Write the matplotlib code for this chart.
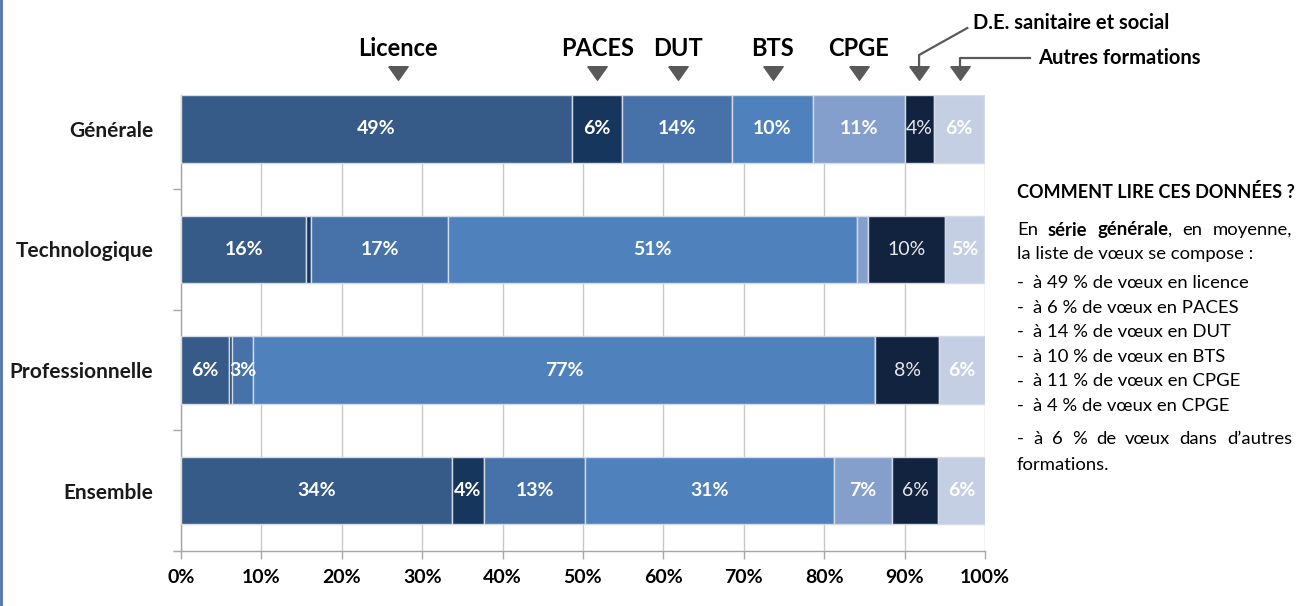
import matplotlib
matplotlib.use('Agg')
import matplotlib.pyplot as plt
from matplotlib.transforms import blended_transform_factory
from matplotlib.lines import Line2D

plt.rcParams['font.family'] = ['Lato', 'DejaVu Sans']

# ---------------- data ----------------
series = ['Générale', 'Technologique', 'Professionnelle', 'Ensemble']
formations = ['Licence', 'PACES', 'DUT', 'BTS', 'CPGE',
              'D.E. sanitaire et social', 'Autres formations']
licence = [48.6, 15.6, 6.0, 33.7]
paces = [6.2, 0.6, 0.4, 4.0]
dut = [13.7, 17.0, 2.6, 12.6]
bts = [10.1, 50.9, 77.3, 30.9]
cpge = [11.4, 1.3, 0.0, 7.2]
de_sanitaire = [3.6, 9.6, 8.0, 5.8]
autres = [6.3, 4.9, 5.7, 5.8]
xtick_values = [0, 10, 20, 30, 40, 50, 60, 70, 80, 90, 100]
xtick_labels = ['0%', '10%', '20%', '30%', '40%', '50%', '60%', '70%', '80%', '90%', '100%']
# header marker positions (in % on the x scale)
header_pos = [27, 51.8, 61.8, 73.6, 84.3, 91.8, 96.9]

values = [licence, paces, dut, bts, cpge, de_sanitaire, autres]
colors = ['#365b88', '#17365d', '#4672a9', '#4f81bd', '#849fcc', '#11233f', '#c5cfe3']

W, H = 1308, 606
fig = plt.figure(figsize=(W / 100, H / 100), dpi=100)
ax = fig.add_axes([181 / W, 55 / H, (985 - 181) / W, (551 - 95) / H])

ypos = list(range(len(series)))
left = [0.0] * len(series)
for k, (vals, col) in enumerate(zip(values, colors)):
    ax.barh(ypos, vals, left=left, height=0.56, color=col,
            edgecolor='#d3dbe8', linewidth=1, zorder=3)
    for i, v in enumerate(vals):
        if v >= 2:
            if k == 5:
                tc, fw = '#e8e8e8', 'normal'
            else:
                tc, fw = 'white', 'bold'
            ax.text(left[i] + v / 2, i, f'{round(v)}%', ha='center', va='center',
                    color=tc, fontsize=14, fontweight=fw, zorder=4)
    left = [l + v for l, v in zip(left, vals)]

ax.set_xlim(0, 100)
ax.set_ylim(3.5, -0.28)
ax.set_xticks(xtick_values)
ax.set_xticklabels(xtick_labels, fontsize=14, fontweight='bold')
ax.set_yticks(ypos)
ax.set_yticklabels(series, fontsize=15, fontweight='bold', color='#1a1a1a')
ax.set_yticks([0.5, 1.5, 2.5, 3.5], minor=True)
ax.tick_params(axis='y', which='major', length=0, pad=20)
ax.tick_params(axis='y', which='minor', length=6, color='#a6a6a6', width=1)
ax.tick_params(axis='x', which='major', length=6, color='#a6a6a6', width=1, pad=7)
ax.xaxis.grid(True, color='#c8c8c8', linewidth=1, zorder=0)
ax.set_axisbelow(True)
for s in ['top', 'right']:
    ax.spines[s].set_visible(False)
for s in ['left', 'bottom']:
    ax.spines[s].set_color('#a6a6a6')
    ax.spines[s].set_linewidth(1)

# ---------------- header markers ----------------
tr = blended_transform_factory(ax.transData, fig.transFigure)
def fy(py):
    return 1 - py / H

tri = [(-1, 0.7), (1, 0.7), (0, -0.7), (-1, 0.7)]
for xp in header_pos:
    ax.plot([xp], [fy(73)], marker=tri, markersize=14, color='#595959',
            transform=tr, clip_on=False, linestyle='none')

for name, xp in zip(formations[:5], header_pos[:5]):
    ax.text(xp, fy(48), name, transform=tr, ha='center', va='center',
            fontsize=17, fontweight='bold', color='black', clip_on=False)

# D.E. leader
de_x = header_pos[5]
fig.add_artist(Line2D([de_x, de_x, 97.8], [fy(67), fy(55), fy(28)], transform=tr,
                      color='#595959', linewidth=1.6))
ax.text(98.5, fy(23), formations[5], transform=tr, ha='left', va='center',
        fontsize=14.5, fontweight='bold', color='black', clip_on=False)
# Autres leader
au_x = header_pos[6]
fig.add_artist(Line2D([au_x, au_x, 105.6], [fy(67), fy(58), fy(58)], transform=tr,
                      color='#595959', linewidth=1.6))
ax.text(106.6, fy(58), formations[6], transform=tr, ha='left', va='center',
        fontsize=14.5, fontweight='bold', color='black', clip_on=False)

# left border line
fig.add_artist(Line2D([0.8 / W, 0.8 / W], [0, 1], transform=fig.transFigure,
                      color='#4f74a8', linewidth=2))

# ---------------- right text block ----------------
x0, x1 = 1017, 1292
TS = 13.3
TT = 13
fig.canvas.draw()
renderer = fig.canvas.get_renderer()

def width_px(t):
    return t.get_window_extent(renderer).width / fig.bbox.width * W

def justified(words, y):
    objs, widths = [], []
    for w in words:
        segs, tot = [], 0
        for t, wt in w:
            o = fig.text(0.5, 0.5, t, fontsize=TS, fontweight=wt, va='center', ha='left')
            wd = width_px(o)
            segs.append((o, wd))
            tot += wd
        objs.append(segs)
        widths.append(tot)
    gap = (x1 - x0 - sum(widths)) / (len(words) - 1)
    x = x0
    for segs, tot in zip(objs, widths):
        xx = x
        for o, wd in segs:
            o.set_position((xx / W, fy(y)))
            xx += wd
        x += tot + gap

fig.text(x0 / W, fy(192), 'COMMENT LIRE CES DONNÉES ?', fontsize=TT, fontweight='bold',
         va='center', ha='left')
justified([[('En', 'normal')], [('série', 'bold')], [('générale', 'bold'), (',', 'normal')],
           [('en', 'normal')], [('moyenne,', 'normal')]], 230)
fig.text(x0 / W, fy(254), 'la liste de vœux se compose :', fontsize=TS, va='center', ha='left')
items = ['à 49 % de vœux en licence', 'à 6 % de vœux en PACES', 'à 14 % de vœux en DUT',
         'à 10 % de vœux en BTS', 'à 11 % de vœux en CPGE', 'à 4 % de vœux en CPGE']
for j, it in enumerate(items):
    y = 283 + j * 24.6
    fig.text(x0 / W, fy(y), '-', fontsize=TS, va='center', ha='left')
    fig.text(1033 / W, fy(y), it, fontsize=TS, va='center', ha='left')
justified([[('-', 'normal')], [('à', 'normal')], [('6', 'normal')], [('%', 'normal')],
           [('de', 'normal')], [('vœux', 'normal')], [('dans', 'normal')],
           [('d’autres', 'normal')]], 439)
fig.text(x0 / W, fy(465), 'formations.', fontsize=TS, va='center', ha='left')

fig.savefig('out.png', dpi=100)
